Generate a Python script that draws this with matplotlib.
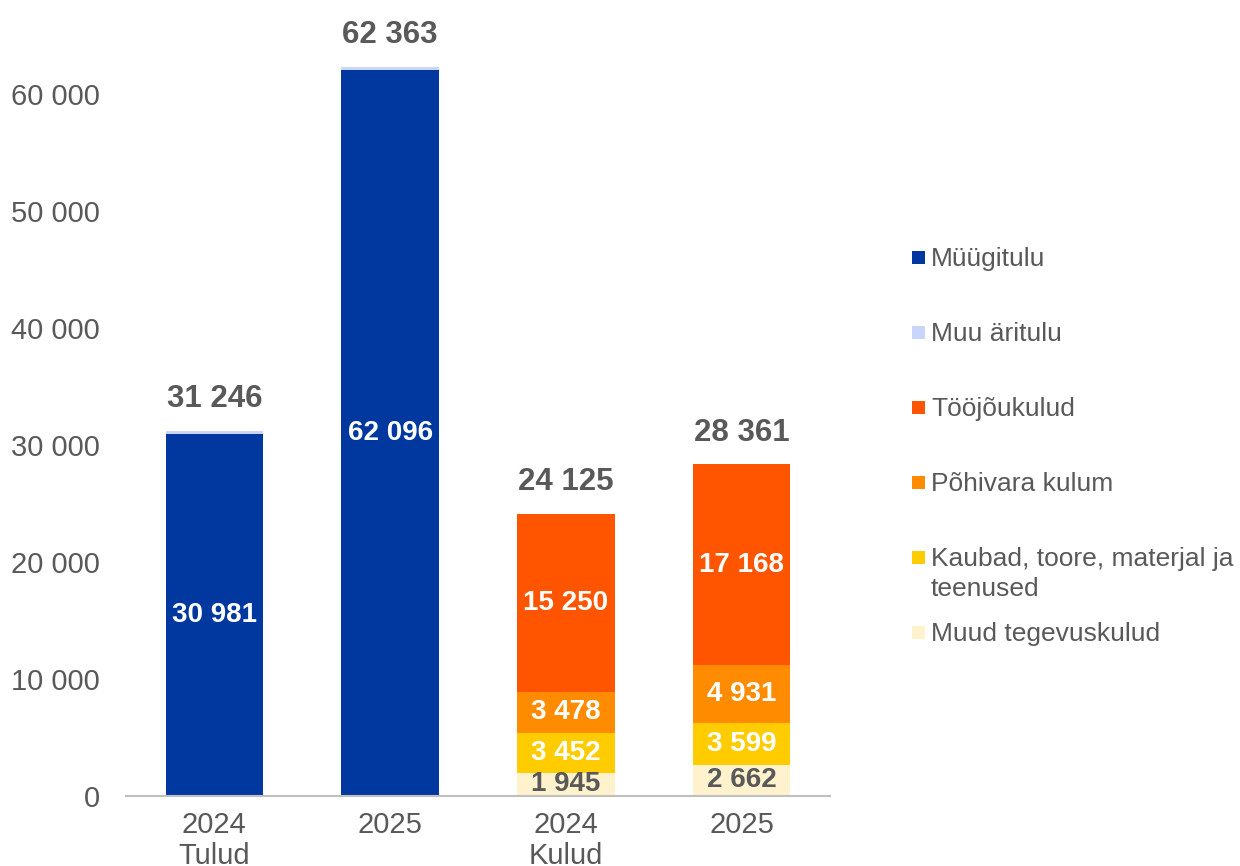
import matplotlib
matplotlib.use('Agg')
import numpy as np
import matplotlib.pyplot as plt
from matplotlib.patches import Rectangle

plt.rcParams['font.family'] = ['Liberation Sans', 'DejaVu Sans']

# DATA

categories   = ['2024\nTulud', '2025', '2024\nKulud', '2025']
mygitulu     = [30981, 62096, 0, 0]
muu_aritulu  = [265, 267, 0, 0]
muud_kulud   = [0, 0, 1945, 2662]
kaubad       = [0, 0, 3452, 3599]
pohivara     = [0, 0, 3478, 4931]
toojou       = [0, 0, 15250, 17168]
totals       = [31246, 62363, 24125, 28361]

yticks = [0, 10000, 20000, 30000, 40000, 50000, 60000]

GRAY = '#595959'

series = [
    ('Müügitulu',         mygitulu,    '#0038A0', 'white'),
    ('Muu äritulu',       muu_aritulu, '#C9D5FA', None),
    ('Muud tegevuskulud', muud_kulud,  '#FFF2CC', GRAY),
    ('Kaubad, toore, materjal ja\nteenused', kaubad, '#FFCC00', 'white'),
    ('Põhivara kulum',    pohivara,    '#FF8C00', 'white'),
    ('Tööjõukulud',       toojou,      '#FF5500', 'white'),
]

def fmt(v):
    return f'{v:,.0f}'.replace(',', ' ')

# FIGURE

fig = plt.figure(figsize=(12.4, 8.66), dpi=100)
ax = fig.add_axes([0.102, 0.081, 0.567, 0.891])

x = np.arange(len(categories))
width = 0.555
bottom = np.zeros(len(categories))

for name, vals, color, tcol in series:
    vals = np.array(vals, dtype=float)
    ax.bar(x, vals, width, bottom=bottom, color=color, linewidth=0)
    if tcol is not None:
        for xi, b, v in zip(x, bottom, vals):
            if v > 0:
                ax.text(xi, b + v / 2, fmt(v), ha='center', va='center',
                        color=tcol, fontsize=20, fontweight='bold')
    bottom += vals

for xi, t in zip(x, totals):
    ax.annotate(fmt(t), (xi, t), xytext=(0, 12), textcoords='offset points',
                ha='center', va='bottom', color=GRAY, fontsize=22.5, fontweight='bold')

ax.set_xlim(-0.5, 3.5)
ax.set_ylim(0, 66000)
ax.set_yticks(yticks)
ax.set_yticklabels([fmt(v) for v in yticks])
ax.set_xticks(x)
ax.set_xticklabels(categories, linespacing=1.12)
ax.tick_params(axis='y', length=0, pad=19, labelsize=21, labelcolor=GRAY)
ax.tick_params(axis='x', length=0, pad=11, labelsize=21, labelcolor=GRAY)
for s in ['top', 'right', 'left']:
    ax.spines[s].set_visible(False)
ax.spines['bottom'].set_color('#BFBFBF')
ax.spines['bottom'].set_linewidth(1.5)

# LEGEND (manual, wide spacing like the original)

legend_order = ['Müügitulu', 'Muu äritulu', 'Tööjõukulud', 'Põhivara kulum',
                'Kaubad, toore, materjal ja\nteenused', 'Muud tegevuskulud']
legend_y = [257, 332, 407, 482, 557, 632]
colors = {name: color for name, _, color, _ in series}
W, H = 1240, 866
for name, ypx in zip(legend_order, legend_y):
    sq = 13
    fig.add_artist(Rectangle((912 / W, 1 - (ypx + sq / 2) / H), sq / W, sq / H,
                             transform=fig.transFigure, color=colors[name], lw=0))
    for i, line in enumerate(name.split('\n')):
        fig.text(931 / W, 1 - (ypx + 2 + 30 * i) / H, line, ha='left', va='center',
                 fontsize=19, color=GRAY)

fig.savefig('out.png', dpi=100)
